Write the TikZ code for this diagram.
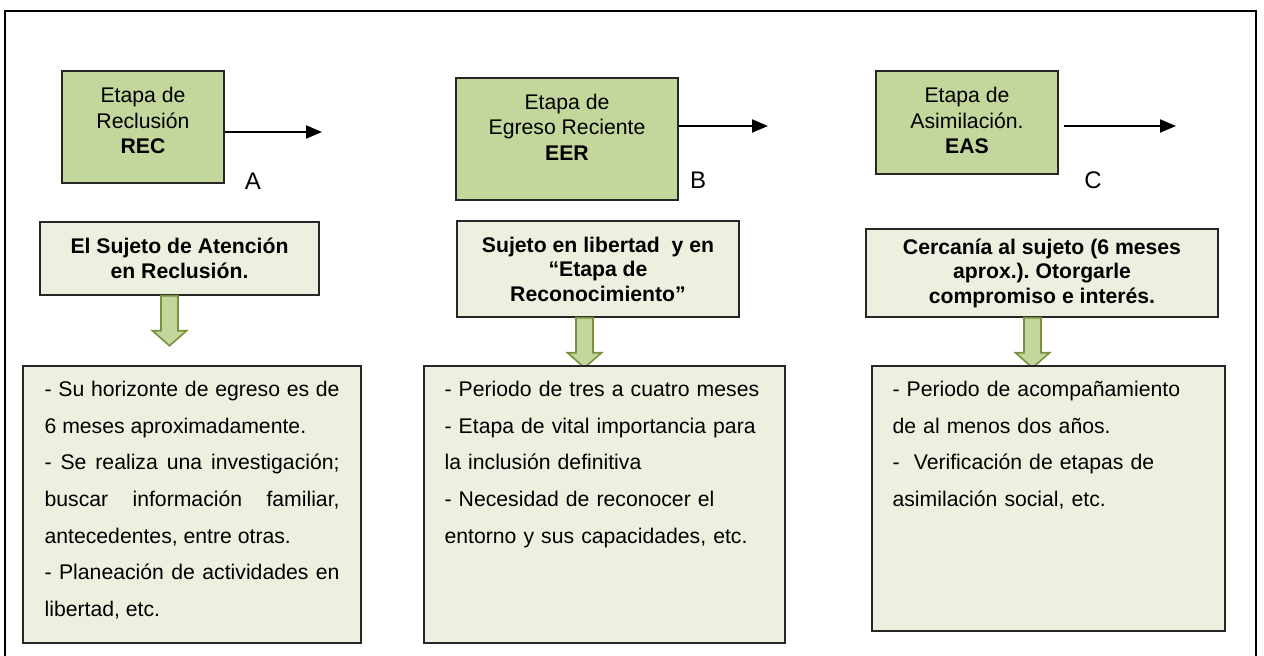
\documentclass[tikz,border=0pt]{standalone}
\usepackage{fontspec}
\setmainfont{Liberation Sans}
\usepackage{xcolor}
\usetikzlibrary{positioning,arrows.meta}
\definecolor{stagegreen}{HTML}{C3D69B}
\definecolor{palegreen}{HTML}{EBF1DE}
\definecolor{olivedark}{HTML}{76923C}
\definecolor{boxline}{HTML}{262626}
\frenchspacing

\begin{document}
\begin{tikzpicture}[x=0.5pt,y=-0.5pt,>={Triangle[length=8pt,width=6.5pt]},
	stage/.style={draw=boxline,line width=0.8pt,fill=stagegreen,inner sep=0pt},
	stagetext/.style={align=center,inner sep=0pt,font=\fontsize{10.6}{12.75}\selectfont},
	focus/.style={draw=boxline,line width=0.8pt,fill=palegreen,inner sep=0pt,align=center,font=\bfseries\fontsize{10.6}{12.25}\selectfont},
	detail/.style={draw=boxline,line width=0.8pt,fill=palegreen,inner sep=0pt},
	detailtext/.style={anchor=base west,inner sep=0pt,font=\fontsize{10.6}{18.3}\selectfont},
	flow/.style={->,line width=1pt},
	letter/.style={inner sep=0pt,font=\fontsize{12}{14}\selectfont},
	pics/downblock/.style={code={\draw[fill=stagegreen,draw=olivedark,line width=0.8pt] (-8.5,0) -- (8.5,0) -- (8.5,35) -- (17,35) -- (0,50) -- (-17,35) -- (-8.5,35) -- cycle;}}]
			\useasboundingbox (0,0) rectangle (1264,656);
			\draw[line width=1pt] (5,11) rectangle (1256,668);

			\node[stage,minimum width=81pt,minimum height=56pt] (recBox) at (143,127) {};
			\node[stagetext] (recText) at (143,120.5) {Etapa de\\Reclusión\\\textbf{REC}};
			\node[stage,minimum width=111pt,minimum height=61pt] (eerBox) at (567,139) {};
			\node[stagetext] (eerText) at (567,127) {Etapa de\\Egreso Reciente\\\textbf{EER}};
			\node[stage,minimum width=91pt,minimum height=51.5pt] (easBox) at (967,122.5) {};
			\node[stagetext] (easText) at (967,120.5) {Etapa de\\Asimilación.\\\textbf{EAS}};

			\coordinate (recEnd) at (322,132);
			\coordinate (eerEnd) at (768,126);
			\coordinate (easEnd) at (1176,126);
			\draw[flow] (recBox.east |- recEnd) -- (recEnd);
			\draw[flow] (eerBox.east |- eerEnd) -- (eerEnd);
			\draw[flow] ([xshift=2.5pt]easBox.east |- easEnd) -- (easEnd);

			\node[letter] (labA) at (253,181) {A};
			\node[letter] (labB) at (698,180) {B};
			\node[letter] (labC) at (1093,180) {C};

			\node[focus,minimum width=139.5pt,minimum height=36.5pt] (focA) at (179.5,258.5) {El Sujeto de Atención\\en Reclusión.};
			\node[focus,minimum width=141pt,minimum height=48pt] (focB) at (598,269) {Sujeto en libertad\ \ y en\\“Etapa de\\Reconocimiento”};
			\node[focus,minimum width=176pt,minimum height=44pt] (focC) at (1042,273) {Cercanía al sujeto (6 meses\\aprox.). Otorgarle\\compromiso e interés.};

			\pic at ([xshift=-5pt]focA.south) {downblock};
			\pic at ([xshift=-6.75pt]focB.south) {downblock};
			\pic at ([xshift=-4.75pt]focC.south) {downblock};

			\node[detail,minimum width=169pt,minimum height=138.5pt] (detA) at (192,504.5) {};
			\node[detail,minimum width=180.5pt,minimum height=138.5pt] (detB) at (604.5,504.5) {};
			\node[detail,minimum width=176.5pt,minimum height=132.5pt] (detC) at (1048.5,498.5) {};

			\node[detailtext,text width=147.5pt,align=justify] (detAText) at ([xshift=11pt,yshift=-15.75pt]detA.north west) {- Su horizonte de egreso es de\linebreak 6 meses aproximadamente.\\- Se realiza una investigación;\linebreak buscar información familiar,\linebreak antecedentes, entre otras.\\- Planeación de actividades en\linebreak libertad, etc.};
			\node[detailtext,text width=170pt,align=left] (detBText) at ([xshift=10.5pt,yshift=-15.75pt]detB.north west) {- Periodo de tres a cuatro meses\\- Etapa de vital importancia para\\la inclusión definitiva\\- Necesidad de reconocer el\\entorno y sus capacidades, etc.};
			\node[detailtext,text width=160pt,align=left] (detCText) at ([xshift=10.5pt,yshift=-15.75pt]detC.north west) {- Periodo de acompañamiento\\de al menos dos años.\\-\ \ Verificación de etapas de\\asimilación social, etc.};
\end{tikzpicture}
\end{document}
